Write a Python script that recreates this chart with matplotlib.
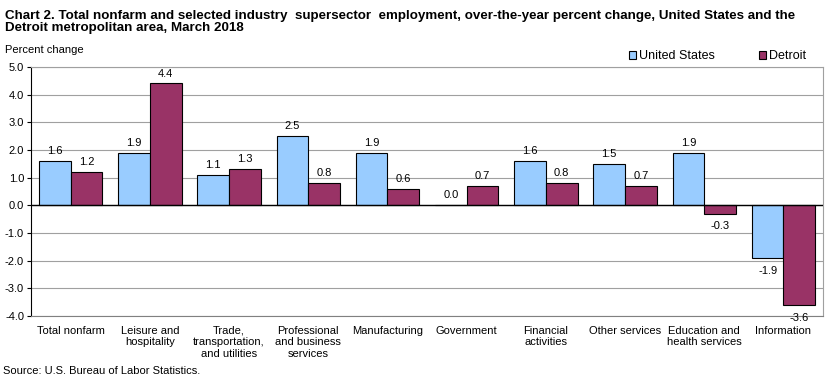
import matplotlib.pyplot as plt
import numpy as np

plt.rcParams['font.family'] = ['Liberation Sans', 'DejaVu Sans']

categories = ["Total nonfarm", "Leisure and\nhospitality", "Trade,\ntransportation,\nand utilities",
              "Professional\nand business\nservices", "Manufacturing", "Government",
              "Financial\nactivities", "Other services", "Education and\nhealth services",
              "Information"]
us_values = [1.6, 1.9, 1.1, 2.5, 1.9, 0.0, 1.6, 1.5, 1.9, -1.9]
detroit_values = [1.2, 4.4, 1.3, 0.8, 0.6, 0.7, 0.8, 0.7, -0.3, -3.6]

fig = plt.figure(figsize=(8.39, 3.8), dpi=100)
ax = fig.add_axes([0.037, 0.168, 0.944, 0.656])

x = np.arange(len(categories))
w = 0.4
b1 = ax.bar(x - w / 2, us_values, w, color='#99CCFF', edgecolor='black', linewidth=0.8,
            label='United States', zorder=3)
b2 = ax.bar(x + w / 2, detroit_values, w, color='#993366', edgecolor='black', linewidth=0.8,
            label='Detroit', zorder=3)

for bars, vals in [(b1, us_values), (b2, detroit_values)]:
    for bar, v in zip(bars, vals):
        cx = bar.get_x() + bar.get_width() / 2
        if v >= 0:
            ax.text(cx, v + 0.18, f"{v:.1f}", ha='center', va='bottom', fontsize=8)
        else:
            ax.text(cx, v - 0.28, f"{v:.1f}", ha='center', va='top', fontsize=8)

ax.set_xlim(-0.5, len(categories) - 0.5)
ax.set_ylim(-4.0, 5.0)
ax.set_yticks(np.arange(-4, 5.1, 1.0))
ax.set_yticklabels([f"{t:.1f}" for t in np.arange(-4, 5.1, 1.0)], fontsize=8)
ax.set_xticks(x)
ax.set_xticklabels(categories, fontsize=8, linespacing=1.2)
ax.tick_params(axis='x', length=0, pad=7)
ax.tick_params(axis='y', length=3, pad=2)
ax.grid(axis='y', color='#A0A0A0', linewidth=0.8, zorder=0)
ax.axhline(0, color='black', linewidth=1, zorder=4)

for s in ['top', 'right']:
    ax.spines[s].set_color('#A0A0A0')
ax.spines['bottom'].set_color('#808080')
ax.spines['left'].set_color('black')

fig.text(0.006, 0.975, "Chart 2. Total nonfarm and selected industry  supersector  employment, over-the-year percent change, United States and the\nDetroit metropolitan area, March 2018",
         fontsize=9.6, fontweight='bold', va='top', ha='left', linespacing=1.0)
fig.text(0.006, 0.868, "Percent change", fontsize=8, va='center')
fig.text(0.004, 0.025, "Source: U.S. Bureau of Labor Statistics.", fontsize=8, va='center')

fig.legend(handles=[b1, b2], loc='center', bbox_to_anchor=(0.855, 0.852), ncol=2, frameon=False,
           fontsize=9, handlelength=0.6, handleheight=0.6, handletextpad=0.2, columnspacing=3.5)

fig.savefig('out.png', dpi=100)
